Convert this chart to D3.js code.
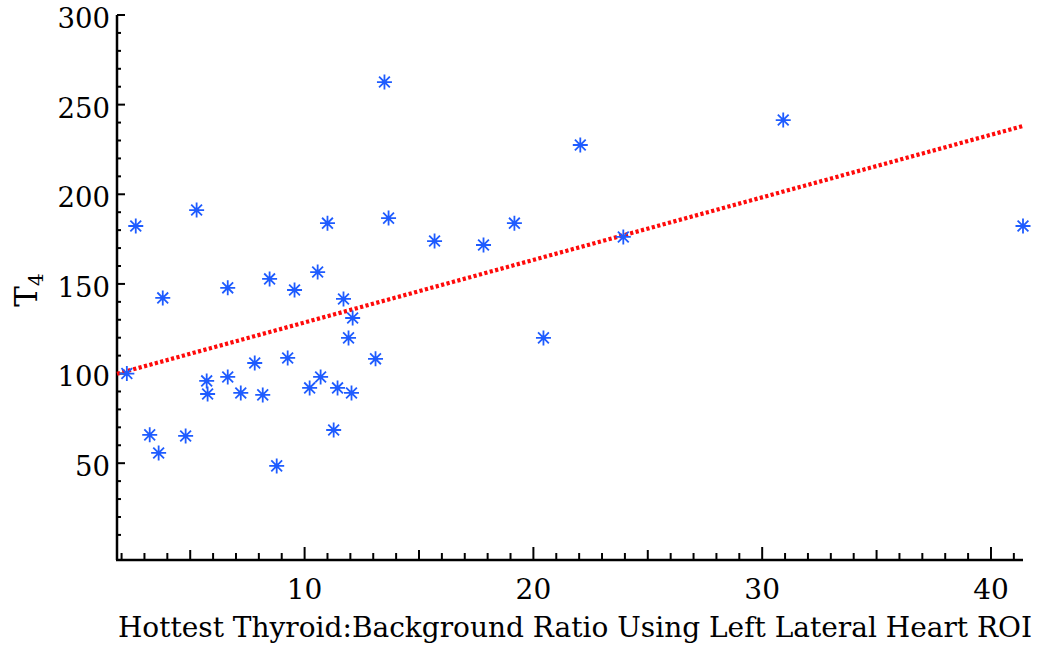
<!DOCTYPE html>
<html>
<head>
<meta charset="utf-8">
<script src="https://cdn.jsdelivr.net/npm/d3@7"></script>
<style>
  html, body { margin: 0; padding: 0; background: #fff; }
  svg { display: block; }
  text { font-family: "DejaVu Serif", "Liberation Serif", serif; fill: #000; }
</style>
</head>
<body>
<svg id="chart" width="1044" height="648"></svg>
<script>
// Thyroid:background ratio (x) against T4 (y), one entry per patient
const ratio = [2.23, 2.62, 3.23, 3.62, 3.80, 4.80, 5.28, 5.72, 5.76, 6.64,
               6.64, 7.21, 7.82, 8.17, 8.47, 8.78, 9.26, 9.56, 10.22, 10.57,
               10.70, 11.00, 11.27, 11.44, 11.70, 11.92, 12.05, 12.10, 13.10, 13.49,
               13.67, 15.68, 17.82, 19.17, 20.44, 22.05, 23.93, 30.92, 41.40];
const t4    = [100.0, 182.3, 65.8, 55.7, 142.2, 65.2, 191.2, 95.9, 88.6, 147.8,
               98.1, 89.2, 105.9, 88.1, 152.8, 48.5, 108.7, 146.6, 92.0, 156.6,
               98.1, 183.9, 68.5, 92.0, 141.6, 119.9, 89.2, 131.0, 108.2, 262.6,
               186.7, 173.9, 171.7, 183.9, 119.9, 227.5, 176.2, 241.4, 182.3];

// Linear fit T4 = intercept + slope * ratio
const fitIntercept = 93.6;
const fitSlope = 3.49;

// Axis ranges and labelled ticks
const xDomain = [1.8, 41.4];
const yDomain = [-4, 300];
const xTickLabels = [10, 20, 30, 40];
const yTickLabels = [50, 100, 150, 200, 250, 300];

const xTitle = "Hottest Thyroid:Background Ratio Using Left Lateral Heart ROI";
const yTitle = "T";
const yTitleSub = "4";

const svg = d3.select("#chart");
const plotLeft = 117, plotRight = 1023, plotTop = 15, plotBottom = 560;

const x = d3.scaleLinear().domain(xDomain).range([plotLeft, plotRight]);
const y = d3.scaleLinear().domain(yDomain).range([plotBottom, plotTop]);

// Axis lines
svg.append("line").attr("x1", plotLeft).attr("x2", plotLeft).attr("y1", y(300)).attr("y2", plotBottom)
  .attr("stroke", "#000").attr("stroke-width", 2.5);
svg.append("line").attr("x1", plotLeft - 1).attr("x2", plotRight).attr("y1", plotBottom).attr("y2", plotBottom)
  .attr("stroke", "#000").attr("stroke-width", 2.5);

// X ticks: every unit, longer at multiples of 5 and 10, pointing inward
const xTicks = d3.range(2, 42, 1);
svg.append("g").selectAll("line").data(xTicks).join("line")
  .attr("x1", d => x(d)).attr("x2", d => x(d))
  .attr("y1", plotBottom)
  .attr("y2", d => plotBottom - (d % 10 === 0 ? 13 : d % 5 === 0 ? 10 : 7))
  .attr("stroke", "#000").attr("stroke-width", 2);

svg.append("g").selectAll("text").data(xTickLabels).join("text")
  .attr("x", d => x(d)).attr("y", 599)
  .attr("text-anchor", "middle").attr("font-size", 28)
  .text(d => d);

// Y ticks: every 10, longer at multiples of 50, pointing inward
const yTicks = d3.range(10, 301, 10);
svg.append("g").selectAll("line").data(yTicks).join("line")
  .attr("x1", plotLeft).attr("x2", d => plotLeft + (d % 50 === 0 ? 8 : 4))
  .attr("y1", d => y(d)).attr("y2", d => y(d))
  .attr("stroke", "#000").attr("stroke-width", 2);

svg.append("g").selectAll("text").data(yTickLabels).join("text")
  .attr("x", 110).attr("y", d => y(d))
  .attr("dy", "0.47em")
  .attr("text-anchor", "end").attr("font-size", 27.5)
  .text(d => d);

// Axis titles
svg.append("text")
  .attr("x", 575).attr("y", 637)
  .attr("text-anchor", "middle").attr("font-size", 28)
  .text(xTitle);

const yt = svg.append("text")
  .attr("transform", "translate(37,290) rotate(-90)")
  .attr("text-anchor", "middle").attr("font-size", 31);
yt.append("tspan").text(yTitle);
yt.append("tspan").attr("dy", "0.3em").attr("font-size", 20).text(yTitleSub);

// Regression line, dotted red
svg.append("line")
  .attr("x1", x(xDomain[0])).attr("y1", y(fitIntercept + fitSlope * xDomain[0]))
  .attr("x2", x(xDomain[1])).attr("y2", y(fitIntercept + fitSlope * xDomain[1]))
  .attr("stroke", "#ff0a0a").attr("stroke-width", 4.2)
  .attr("stroke-dasharray", "3.2,2.4");

// Asterisk markers
const pts = ratio.map((r, i) => ({ r, v: t4[i] }));
const arm = 7.5, diag = 5.4;
const starPath =
  `M0,${-arm}V${arm}M${-arm},0H${arm}` +
  `M${-diag},${-diag}L${diag},${diag}M${-diag},${diag}L${diag},${-diag}`;
const marks = svg.append("g").selectAll("g").data(pts).join("g")
  .attr("transform", d => `translate(${x(d.r)},${y(d.v)})`);
marks.append("path").attr("d", starPath)
  .attr("stroke", "#1f5cff").attr("stroke-width", 1.8).attr("fill", "none");
marks.append("circle").attr("r", 2.3).attr("fill", "#1f5cff");
</script>
</body>
</html>
